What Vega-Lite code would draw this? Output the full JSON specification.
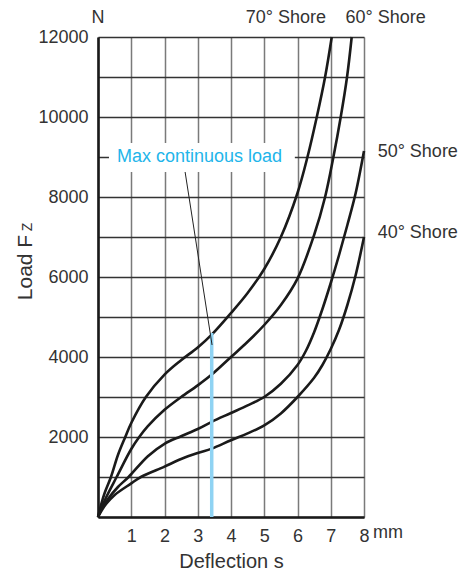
{
  "$schema": "https://vega.github.io/schema/vega-lite/v6.json",
  "width": 266,
  "height": 480,
  "autosize": {"type": "none"},
  "padding": {"left": 98, "top": 37, "right": 101, "bottom": 55},
  "background": "white",
  "config": {"view": {"stroke": null}, "font": "Liberation Sans"},
  "datasets": {
    "curves": [
      {"grade": "70", "x": 0, "y": 0},
      {"grade": "70", "x": 0.1, "y": 330},
      {"grade": "70", "x": 0.2, "y": 600},
      {"grade": "70", "x": 0.39, "y": 1000},
      {"grade": "70", "x": 0.6, "y": 1550},
      {"grade": "70", "x": 0.82, "y": 2000},
      {"grade": "70", "x": 1, "y": 2350},
      {"grade": "70", "x": 1.44, "y": 3000},
      {"grade": "70", "x": 2, "y": 3560},
      {"grade": "70", "x": 2.5, "y": 3920},
      {"grade": "70", "x": 3, "y": 4240},
      {"grade": "70", "x": 3.42, "y": 4560},
      {"grade": "70", "x": 4, "y": 5100},
      {"grade": "70", "x": 4.5, "y": 5600},
      {"grade": "70", "x": 5, "y": 6200},
      {"grade": "70", "x": 5.5, "y": 7000},
      {"grade": "70", "x": 6, "y": 8100},
      {"grade": "70", "x": 6.3, "y": 9000},
      {"grade": "70", "x": 6.58, "y": 10000},
      {"grade": "70", "x": 6.83, "y": 11000},
      {"grade": "70", "x": 7.03, "y": 12000},
      {"grade": "60", "x": 0, "y": 0},
      {"grade": "60", "x": 0.1, "y": 220},
      {"grade": "60", "x": 0.25, "y": 500},
      {"grade": "60", "x": 0.56, "y": 1000},
      {"grade": "60", "x": 1, "y": 1700},
      {"grade": "60", "x": 1.24, "y": 2000},
      {"grade": "60", "x": 1.5, "y": 2270},
      {"grade": "60", "x": 2, "y": 2680},
      {"grade": "60", "x": 2.5, "y": 3000},
      {"grade": "60", "x": 3, "y": 3290},
      {"grade": "60", "x": 3.42, "y": 3560},
      {"grade": "60", "x": 4, "y": 4000},
      {"grade": "60", "x": 4.5, "y": 4380},
      {"grade": "60", "x": 5, "y": 4800},
      {"grade": "60", "x": 5.5, "y": 5300},
      {"grade": "60", "x": 6, "y": 5960},
      {"grade": "60", "x": 6.5, "y": 7050},
      {"grade": "60", "x": 6.83, "y": 8000},
      {"grade": "60", "x": 7.08, "y": 9000},
      {"grade": "60", "x": 7.3, "y": 10000},
      {"grade": "60", "x": 7.49, "y": 11000},
      {"grade": "60", "x": 7.63, "y": 12000},
      {"grade": "50", "x": 0, "y": 0},
      {"grade": "50", "x": 0.1, "y": 180},
      {"grade": "50", "x": 0.3, "y": 450},
      {"grade": "50", "x": 0.6, "y": 750},
      {"grade": "50", "x": 0.92, "y": 1000},
      {"grade": "50", "x": 1.5, "y": 1520},
      {"grade": "50", "x": 2, "y": 1830},
      {"grade": "50", "x": 2.5, "y": 2020},
      {"grade": "50", "x": 3, "y": 2200},
      {"grade": "50", "x": 3.42, "y": 2380},
      {"grade": "50", "x": 4, "y": 2600},
      {"grade": "50", "x": 4.5, "y": 2790},
      {"grade": "50", "x": 5, "y": 3000},
      {"grade": "50", "x": 5.5, "y": 3330},
      {"grade": "50", "x": 6, "y": 3800},
      {"grade": "50", "x": 6.25, "y": 4150},
      {"grade": "50", "x": 6.5, "y": 4620},
      {"grade": "50", "x": 6.75, "y": 5200},
      {"grade": "50", "x": 7, "y": 5850},
      {"grade": "50", "x": 7.25, "y": 6550},
      {"grade": "50", "x": 7.5, "y": 7300},
      {"grade": "50", "x": 7.75, "y": 8100},
      {"grade": "50", "x": 8, "y": 9150},
      {"grade": "40", "x": 0, "y": 0},
      {"grade": "40", "x": 0.1, "y": 150},
      {"grade": "40", "x": 0.25, "y": 330},
      {"grade": "40", "x": 0.5, "y": 550},
      {"grade": "40", "x": 1, "y": 840},
      {"grade": "40", "x": 1.29, "y": 1000},
      {"grade": "40", "x": 2, "y": 1260},
      {"grade": "40", "x": 2.5, "y": 1450},
      {"grade": "40", "x": 3, "y": 1600},
      {"grade": "40", "x": 3.42, "y": 1710},
      {"grade": "40", "x": 4, "y": 1920},
      {"grade": "40", "x": 4.5, "y": 2090},
      {"grade": "40", "x": 5, "y": 2290},
      {"grade": "40", "x": 5.5, "y": 2590},
      {"grade": "40", "x": 6, "y": 3000},
      {"grade": "40", "x": 6.5, "y": 3480},
      {"grade": "40", "x": 6.75, "y": 3800},
      {"grade": "40", "x": 7, "y": 4200},
      {"grade": "40", "x": 7.25, "y": 4680},
      {"grade": "40", "x": 7.5, "y": 5300},
      {"grade": "40", "x": 7.75, "y": 6050},
      {"grade": "40", "x": 8, "y": 7000}
    ]
  },
  "encoding": {
    "x": {
      "field": "x",
      "type": "quantitative",
      "scale": {"domain": [0, 8], "nice": false, "zero": false},
      "axis": {
        "values": [0, 1, 2, 3, 4, 5, 6, 7, 8],
        "labelExpr": "datum.value == 0 ? '' : datum.label",
        "ticks": false,
        "labelFlush": false,
        "labelOverlap": false,
        "domainColor": "#1a1a1a",
        "domainWidth": 2.6,
        "gridColor": "#7a7a7a",
        "gridWidth": 1.5,
        "gridOpacity": 1,
        "labelFontSize": 18,
        "labelColor": "#333333",
        "labelPadding": 10,
        "title": "Deflection s",
        "titleFontSize": 20,
        "titleFontWeight": "normal",
        "titleColor": "#333333",
        "titlePadding": 6
      }
    },
    "y": {
      "field": "y",
      "type": "quantitative",
      "scale": {"domain": [0, 12000], "nice": false, "zero": false},
      "axis": {
        "values": [0, 1000, 2000, 3000, 4000, 5000, 6000, 7000, 8000, 9000, 10000, 11000, 12000],
        "format": "d",
        "labelExpr": "datum.value % 2000 == 0 && datum.value > 0 ? datum.label : ''",
        "ticks": false,
        "labelFlush": false,
        "labelOverlap": false,
        "domainColor": "#1a1a1a",
        "domainWidth": 2.6,
        "gridColor": "#333333",
        "gridWidth": 1.3,
        "gridOpacity": 1,
        "labelFontSize": 18,
        "labelColor": "#333333",
        "labelPadding": 10,
        "title": "Load F",
        "titleFontSize": 21,
        "titleFontWeight": "normal",
        "titleColor": "#333333",
        "titleAngle": 270,
        "titleAlign": "center",
        "titleBaseline": "alphabetic",
        "titleX": -67,
        "titleY": 230
      }
    }
  },
  "layer": [
    {
      "data": {"values": [{"x": 0.33, "x2": 5.92, "y": 8625, "y2": 9350}]},
      "mark": {"type": "rect", "fill": "white"},
      "encoding": {"x2": {"field": "x2"}, "y2": {"field": "y2"}}
    },
    {
      "data": {"name": "curves"},
      "mark": {"type": "line", "stroke": "#1a1a1a", "strokeWidth": 2.6, "interpolate": "catmull-rom"},
      "encoding": {"detail": {"field": "grade", "type": "nominal"}}
    },
    {
      "data": {"values": [{"x": 3.42, "y": 0, "y2": 4600}]},
      "mark": {"type": "rule", "stroke": "#8fd3f3", "strokeWidth": 3.5},
      "encoding": {"y2": {"field": "y2"}}
    },
    {
      "data": {"values": [{"x": 2.62, "y": 8625}, {"x": 3.43, "y": 4300}]},
      "mark": {"type": "line", "stroke": "#222222", "strokeWidth": 1},
      "encoding": {}
    },
    {
      "data": {"values": [
        {"t": "70° Shore", "x": 5.65, "y": 12475},
        {"t": "60° Shore", "x": 8.65, "y": 12475},
        {"t": "N", "x": 0, "y": 12475}
      ]},
      "mark": {"type": "text", "align": "center", "baseline": "middle", "fontSize": 18, "color": "#333333"},
      "encoding": {"text": {"field": "t"}}
    },
    {
      "data": {"values": [
        {"t": "50° Shore", "x": 8.41, "y": 9133},
        {"t": "40° Shore", "x": 8.41, "y": 7100},
        {"t": "mm", "x": 8.27, "y": -400}
      ]},
      "mark": {"type": "text", "align": "left", "baseline": "middle", "fontSize": 18, "color": "#333333"},
      "encoding": {"text": {"field": "t"}}
    },
    {
      "data": {"values": [{"t": "Max continuous load", "x": 0.57, "y": 9000}]},
      "mark": {"type": "text", "align": "left", "baseline": "middle", "fontSize": 18, "color": "#22b5ea"},
      "encoding": {"text": {"field": "t"}}
    },
    {
      "data": {"values": [{"t": "Z", "x": -1.97, "y": 7250}]},
      "mark": {"type": "text", "align": "center", "baseline": "alphabetic", "angle": 270, "fontSize": 14, "color": "#333333"},
      "encoding": {"text": {"field": "t"}}
    }
  ]
}
